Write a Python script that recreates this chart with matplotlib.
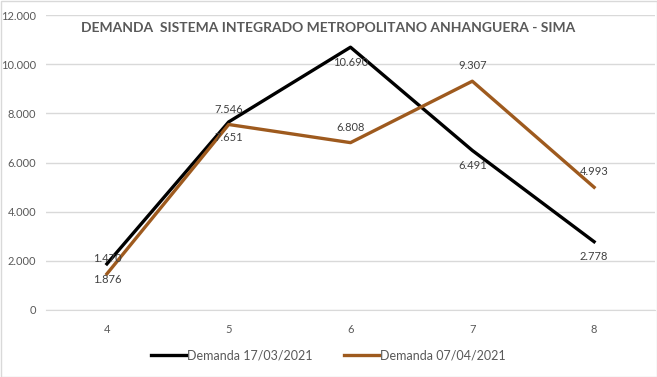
import matplotlib.pyplot as plt
from matplotlib.ticker import FuncFormatter

plt.rcParams["font.family"] = ["Lato", "DejaVu Sans"]

categories = ["4", "5", "6", "7", "8"]
demanda_1703 = [1876, 7651, 10690, 6491, 2778]
demanda_0704 = [1470, 7546, 6808, 9307, 4993]
labels_1703 = ["1.876", "7.651", "10.690", "6.491", "2.778"]
labels_0704 = ["1.470", "7.546", "6.808", "9.307", "4.993"]

BLACK = "#000000"
BROWN = "#9E5A1E"
GRAY = "#595959"

fig = plt.figure(figsize=(6.57, 3.77), dpi=100)
ax = fig.add_axes([46 / 657, 1 - 310 / 377, (655 - 46) / 657, (310 - 15) / 377])

x = range(len(categories))
ax.plot(x, demanda_1703, color=BLACK, lw=2.4, label="Demanda 17/03/2021", zorder=3)
ax.plot(x, demanda_0704, color=BROWN, lw=2.4, label="Demanda 07/04/2021", zorder=3)

# rótulos: série preta abaixo, série marrom acima
for i, (v, t) in enumerate(zip(demanda_1703, labels_1703)):
    ax.annotate(t, (i, v), xytext=(0, -11), textcoords="offset points",
                ha="center", va="center", fontsize=8, color="#404040", zorder=4)
for i, (v, t) in enumerate(zip(demanda_0704, labels_0704)):
    ax.annotate(t, (i, v), xytext=(0, 11), textcoords="offset points",
                ha="center", va="center", fontsize=8, color="#404040", zorder=4)

ax.set_xlim(-0.5, len(categories) - 0.5)
ax.set_ylim(0, 12000)
ax.set_yticks(range(0, 12001, 2000))
ax.yaxis.set_major_formatter(FuncFormatter(lambda v, p: f"{int(v):,}".replace(",", ".")))
ax.set_xticks(list(x))
ax.set_xticklabels(categories)
ax.grid(axis="y", color="#D9D9D9", lw=1)
ax.set_axisbelow(True)
for s in ["top", "right", "left"]:
    ax.spines[s].set_visible(False)
ax.spines["bottom"].set_color("#D9D9D9")
ax.tick_params(axis="both", length=0, labelsize=8, labelcolor=GRAY)
ax.tick_params(axis="x", pad=10)
ax.tick_params(axis="y", pad=7)

fig.text(0.5, 1 - 28 / 377, "DEMANDA  SISTEMA INTEGRADO METROPOLITANO ANHANGUERA - SIMA",
         ha="center", va="center", fontsize=10, fontweight="bold", color=GRAY)

fig.legend(loc="center", bbox_to_anchor=(0.5, 1 - 355 / 377), ncol=2, frameon=False,
           fontsize=9, labelcolor=GRAY, handlelength=2.8, handletextpad=0.1,
           columnspacing=2.5)

border = plt.Rectangle((0.5 / 657, 0.5 / 377), 1 - 1 / 657, 1 - 1 / 377,
                       transform=fig.transFigure, fill=False, ec="#D9D9D9", lw=1)
fig.patches.append(border)

fig.savefig("out.png", dpi=100)
